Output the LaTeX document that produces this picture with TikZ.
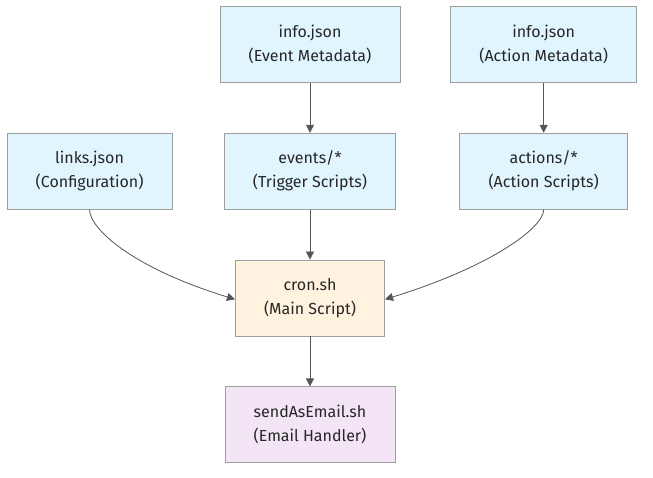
\documentclass[tikz,border=0pt]{standalone}
\usepackage{fontspec}
\setmainfont{Fira Sans}
\usetikzlibrary{positioning,arrows.meta}
\definecolor{fileblue}{HTML}{E1F5FE}
\definecolor{mainorange}{HTML}{FFF3E0}
\definecolor{mailpurple}{HTML}{F3E5F5}
\definecolor{boxline}{HTML}{9E9E9E}
\definecolor{edgegray}{HTML}{555555}
\tikzset{
	node distance = 37.5pt and 38.5pt,
	box/.style = {rectangle, draw=boxline, line width=0.6pt, align=center, minimum height=57pt, inner xsep=21.5pt, font=\fontsize{12}{18}\selectfont, text=black!85}, % the plain file boxes
	filebox/.style = {box, fill=fileblue},
	mainbox/.style = {box, fill=mainorange},
	mailbox/.style = {box, fill=mailpurple},
	flow/.style = {-{Triangle[length=6pt,width=6pt]}, draw=edgegray, line width=0.6pt}
}
\begin{document}
\begin{tikzpicture}
            \useasboundingbox (-232.5pt,223.5pt) rectangle (257.25pt,-135pt);
            \node[mainbox] (cron) at (0,0) {cron.sh\\(Main Script)};
            \node[filebox] (events) [above=of cron] {events/*\\(Trigger Scripts)};
            \node[filebox] (links) [left=of events] {links.json\\(Configuration)};
            \node[filebox] (actions) [right=47.5pt of events] {actions/*\\(Action Scripts)};
            \node[filebox] (eventinfo) [above=of events] {info.json\\(Event Metadata)};
            \node[filebox] (actioninfo) [above=of actions] {info.json\\(Action Metadata)};
            \node[mailbox] (mail) [below=of cron] {sendAsEmail.sh\\(Email Handler)};
            \draw[flow] (eventinfo) -- (events);
            \draw[flow] (actioninfo) -- (actions);
            \draw[flow] (events) -- (cron);
            \draw[flow] (links.south) .. controls +(0,-14pt) and +(-78pt,24pt) .. ([yshift=-1pt]cron.west);
            \draw[flow] (actions.south) .. controls +(0,-14pt) and +(78pt,24pt) .. ([yshift=-1pt]cron.east);
            \draw[flow] (cron) -- (mail);
        \end{tikzpicture}
\end{document}
